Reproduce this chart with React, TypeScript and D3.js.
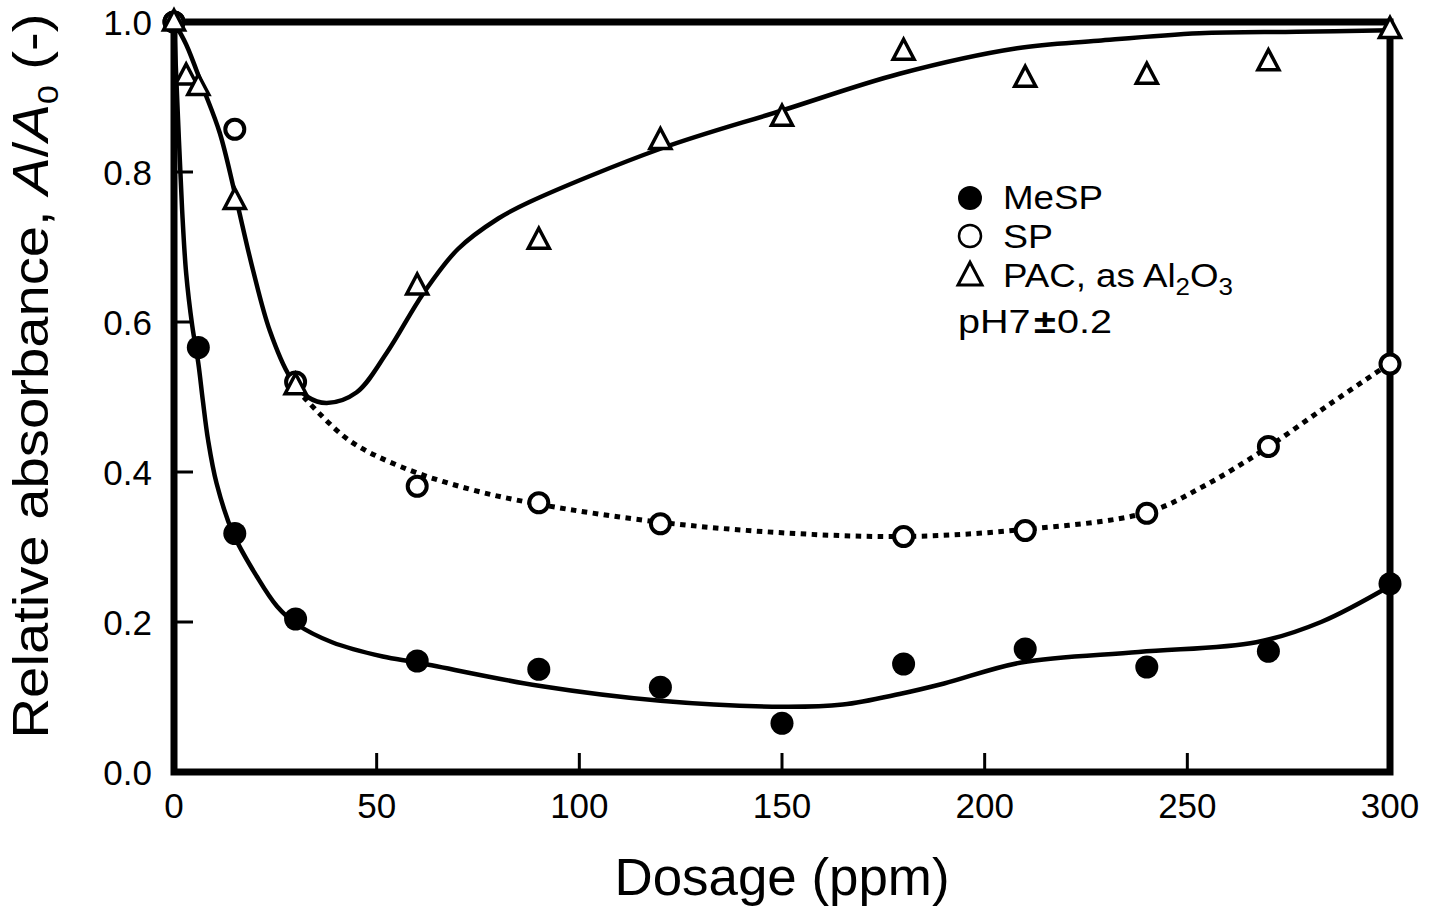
import * as d3 from 'd3';

// measured points
const mespX = [0, 6, 15, 30, 60, 90, 120, 150, 180, 210, 240, 270, 300];
const mespY = [1.0, 0.566, 0.318, 0.204, 0.148, 0.137, 0.113, 0.065, 0.144, 0.164, 0.14, 0.161, 0.251];

const spX = [0, 15, 30, 60, 90, 120, 180, 210, 240, 270, 300];
const spY = [1.0, 0.857, 0.52, 0.381, 0.359, 0.331, 0.314, 0.322, 0.345, 0.434, 0.544];

const pacX = [0, 3, 6, 15, 30, 60, 90, 120, 150, 180, 210, 240, 270, 300];
const pacY = [1.0, 0.928, 0.914, 0.762, 0.515, 0.648, 0.709, 0.842, 0.873, 0.961, 0.925, 0.929, 0.947, 0.99];

// fitted curves
const mespFitX = [0, 1, 2, 3, 4.5, 6, 7.1, 8.4, 10.5, 14.5, 20.4, 25.4, 30.3, 39, 51.5, 60, 90, 120, 150, 165, 179, 190, 209, 238, 267, 283, 300];
const mespFitY = [1.0, 0.87, 0.75, 0.665, 0.595, 0.545, 0.496, 0.443, 0.385, 0.319, 0.261, 0.221, 0.197, 0.173, 0.154, 0.146, 0.115, 0.095, 0.087, 0.09, 0.104, 0.118, 0.146, 0.16, 0.173, 0.2, 0.248];

const spFitX = [32, 43, 56, 73, 90, 120, 150, 180, 209, 240, 254, 269, 285, 300];
const spFitY = [0.5, 0.443, 0.407, 0.377, 0.357, 0.333, 0.319, 0.314, 0.323, 0.346, 0.381, 0.43, 0.49, 0.545];

const pacFitX = [0, 3, 7.1, 11.3, 15, 19.5, 23.6, 28.6, 33, 37.7, 45, 52.5, 61.5, 70, 80, 87.7, 120, 150, 179, 208, 228, 253, 277, 300];
const pacFitY = [1.0, 0.97, 0.913, 0.852, 0.772, 0.669, 0.589, 0.527, 0.5, 0.492, 0.506, 0.559, 0.638, 0.697, 0.738, 0.76, 0.831, 0.882, 0.931, 0.965, 0.975, 0.985, 0.987, 0.989];

const xTicks = [0, 50, 100, 150, 200, 250, 300];
const yTicks = [0, 0.2, 0.4, 0.6, 0.8, 1.0];

const FONT = 'Liberation Sans, Arial, Helvetica, sans-serif';

const x = d3.scaleLinear().domain([0, 300]).range([174, 1390]);
const y = d3.scaleLinear().domain([0, 1]).range([772, 22]);

const zip = (xs: number[], ys: number[]) => xs.map((v, i) => [v, ys[i]] as [number, number]);

const line = d3.line<[number, number]>()
  .x(d => x(d[0]))
  .y(d => y(d[1]))
  .curve(d3.curveCatmullRom.alpha(0.5));

const tri = (cx: number, cy: number, s: number) => {
  const h = s * 0.95;
  return `M${cx},${cy - h * 0.6}L${cx + s / 2},${cy + h * 0.4}L${cx - s / 2},${cy + h * 0.4}Z`;
};

export default function App() {
  return (
    <svg width={1429} height={911} style={{ display: 'block', position: 'absolute', left: 0, top: 0 }}>
      <rect width={1429} height={911} fill="#fff" />

      {/* fitted lines */}
      <path d={line(zip(mespFitX, mespFitY)) || ''} fill="none" stroke="#000" strokeWidth={4.5} />
      <path d={line(zip(pacFitX, pacFitY)) || ''} fill="none" stroke="#000" strokeWidth={4.5} />
      <path d={line(zip(spFitX, spFitY)) || ''} fill="none" stroke="#000" strokeWidth={5} strokeDasharray="5.5 5.5" />

      {/* frame */}
      <rect x={x(0)} y={y(1)} width={x(300) - x(0)} height={y(0) - y(1)} fill="none" stroke="#000" strokeWidth={7} />

      {/* ticks, inward */}
      {xTicks.filter(t => t > 0 && t < 300).map(t => (
        <line key={'xt' + t} x1={x(t)} x2={x(t)} y1={y(0)} y2={y(0) - 19} stroke="#000" strokeWidth={3} />
      ))}
      {yTicks.filter(t => t > 0 && t < 1).map(t => (
        <line key={'yt' + t} x1={x(0)} x2={x(0) + 19} y1={y(t)} y2={y(t)} stroke="#000" strokeWidth={3} />
      ))}

      {/* tick labels */}
      {xTicks.map(t => (
        <text key={'xl' + t} x={x(t)} y={818} textAnchor="middle" fontFamily={FONT} fontSize={35}>{t}</text>
      ))}
      {yTicks.map(t => (
        <text key={'yl' + t} x={152} y={y(t)} dy="0.36em" textAnchor="end" fontFamily={FONT} fontSize={35}>{t.toFixed(1)}</text>
      ))}

      {/* markers */}
      {zip(mespX, mespY).map((d, i) => (
        <circle key={'m' + i} cx={x(d[0])} cy={y(d[1])} r={11.5} fill="#000" />
      ))}
      {zip(spX, spY).map((d, i) => (
        <circle key={'s' + i} cx={x(d[0])} cy={y(d[1])} r={9.5} fill="#fff" stroke="#000" strokeWidth={4} />
      ))}
      {zip(pacX, pacY).map((d, i) => (
        <path key={'p' + i} d={tri(x(d[0]), y(d[1]), 21)} fill="#fff" stroke="#000" strokeWidth={3.5} strokeLinejoin="miter" />
      ))}

      {/* legend */}
      <g fontFamily={FONT} fontSize={34}>
        <circle cx={970} cy={198} r={12} fill="#000" />
        <text x={1003} y={209} textLength={100} lengthAdjust="spacingAndGlyphs">MeSP</text>
        <circle cx={970} cy={236} r={11} fill="#fff" stroke="#000" strokeWidth={2.5} />
        <text x={1003} y={248} textLength={50} lengthAdjust="spacingAndGlyphs">SP</text>
        <path d={tri(970, 276, 24)} fill="#fff" stroke="#000" strokeWidth={3} />
        <text x={1003} y={287} textLength={230} lengthAdjust="spacingAndGlyphs">
          PAC, as Al<tspan fontSize={24} dy={8}>2</tspan><tspan dy={-8}>O</tspan><tspan fontSize={24} dy={8}>3</tspan>
        </text>
        <text x={958} y={333} textLength={154} lengthAdjust="spacingAndGlyphs">
          pH7<tspan dx={3} fontWeight="bold">±</tspan><tspan dx={1}>0.2</tspan>
        </text>
      </g>

      {/* axis titles */}
      <text x={782} y={895} textAnchor="middle" fontFamily={FONT} fontSize={51} textLength={335} lengthAdjust="spacingAndGlyphs">Dosage (ppm)</text>
      <text transform="translate(48,376) rotate(-90)" textAnchor="middle" fontFamily={FONT} fontSize={50} textLength={725} lengthAdjust="spacingAndGlyphs">
        Relative absorbance, <tspan fontStyle="italic">A</tspan>/<tspan fontStyle="italic">A</tspan><tspan fontSize={30} dy={10}>0</tspan><tspan dy={-10}> (-)</tspan>
      </text>
    </svg>
  );
}
